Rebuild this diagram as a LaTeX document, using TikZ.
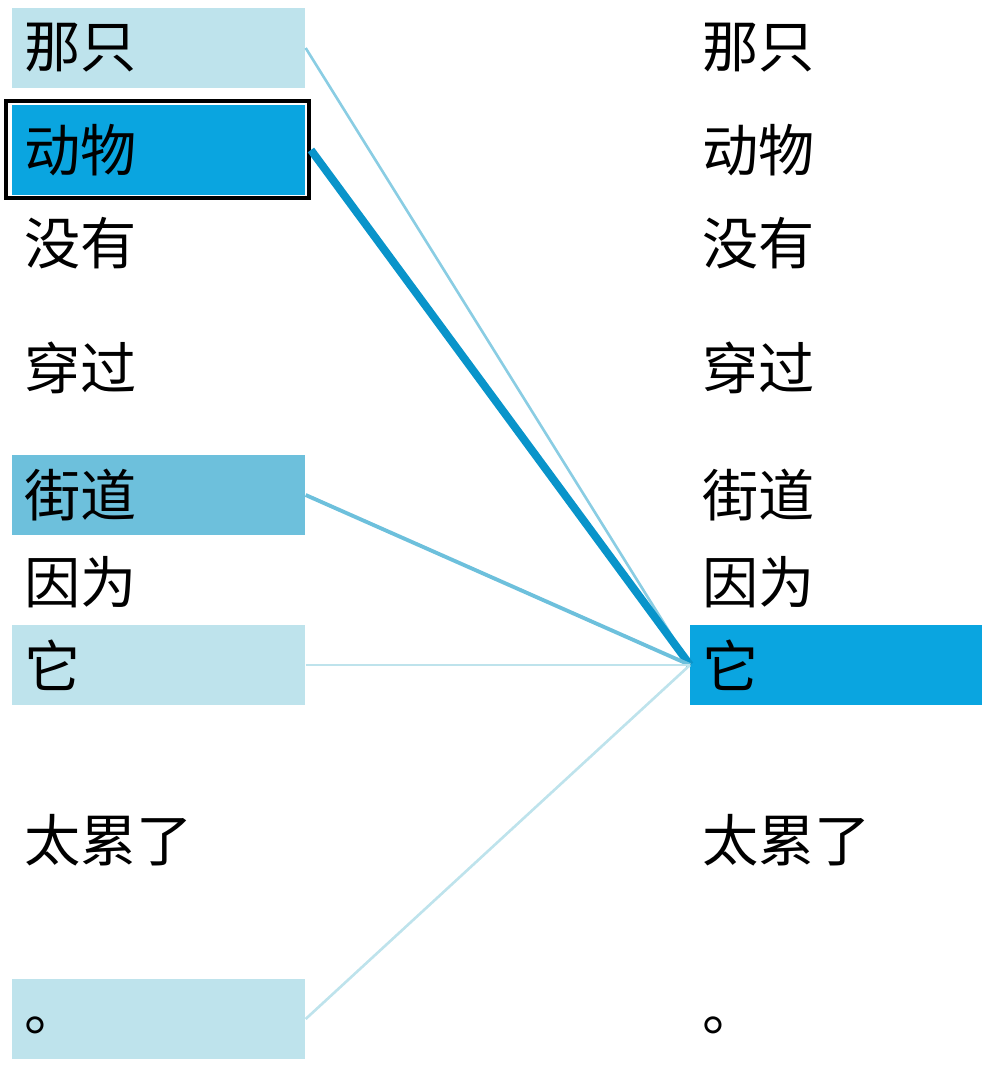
\documentclass[tikz,border=0pt]{standalone}
\usepackage{fontspec}
\newfontfamily\cjk{Noto Sans CJK SC}
\definecolor{boxlight}{HTML}{BEE3EC}
\definecolor{boxmid}{HTML}{6DC0DC}
\definecolor{boxdark}{HTML}{0AA5E0}
\tikzset{>=stealth,
  word/.style={anchor=west, inner sep=0pt, font=\cjk\fontsize{32}{34}\selectfont},
  box/.style={anchor=west, inner sep=0pt, minimum width=5.86cm, minimum height=1.6cm},
  link/.style={line width=#1}}

\begin{document}
\begin{tikzpicture}[x=0.02cm, y=-0.02cm]
\useasboundingbox (0,0) rectangle (992,1070);
% highlighted boxes on the left
\node[box, fill=boxlight] (bNa) at (12,48) {};
\node[box, fill=boxdark, minimum height=1.8cm] (bDw) at (12,150) {};
\draw[line width=2.5pt] (6,101) rectangle (309,198);
\node[box, fill=boxmid] (bJd) at (12,495) {};
\node[box, fill=boxlight] (bTa) at (12,665) {};
\node[box, fill=boxlight] (bJu) at (12,1019) {};
% highlighted box on the right
\node[box, fill=boxdark, minimum width=5.84cm] (rTa) at (690,665) {};
% left words
\foreach \n/\t/\y in {lNa/那只/48, lDw/动物/150, lMy/没有/243, lCg/穿过/368,
  lJd/街道/495, lYw/因为/582, lTa/它/665, lTl/太累了/840, lJu/。/1025}
  \node[word] (\n) at (24,\y) {\t};
% right words
\foreach \n/\t/\y in {rNa/那只/48, rDw/动物/150, rMy/没有/243, rCg/穿过/368,
  rJd/街道/495, rYw/因为/582, rTw/它/665, rTl/太累了/840, rJu/。/1025}
  \node[word] (\n) at (702,\y) {\t};
% attention links
\draw[link=1.5pt, boxmid!80] (bNa.east) -- (rTa.west);
\draw[link=4.5pt, boxdark!90!black] ([xshift=3pt]bDw.east) -- (rTa.west);
\draw[link=2.2pt, boxmid] (bJd.east) -- (rTa.west);
\draw[link=1.5pt, boxlight] (bTa.east) -- (rTa.west);
\draw[link=1.5pt, boxlight] (bJu.east) -- (rTa.west);
\end{tikzpicture}
\end{document}
